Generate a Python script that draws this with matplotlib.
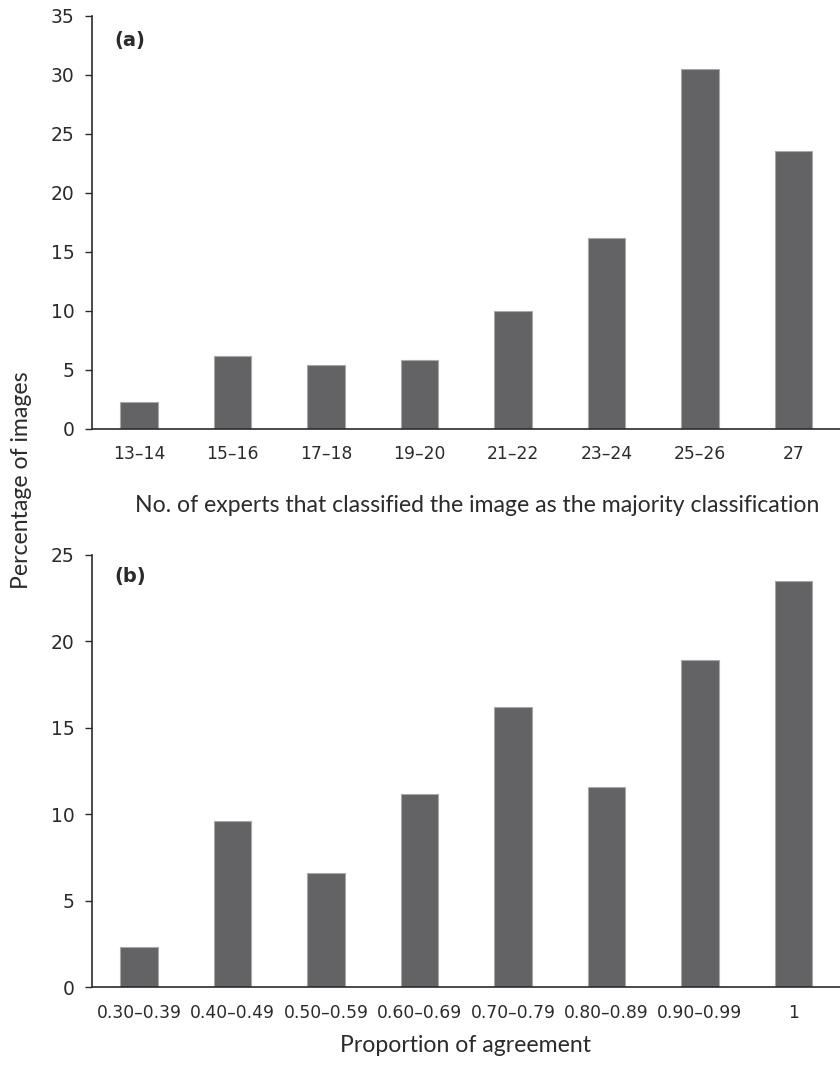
import matplotlib.pyplot as plt

plt.rcParams["font.family"] = ["DejaVu Sans"]

# ---- data ----
experts_labels = ["13–14", "15–16", "17–18", "19–20", "21–22", "23–24", "25–26", "27"]
experts_pct = [2.3, 6.2, 5.4, 5.8, 10.0, 16.2, 30.5, 23.5]

agree_labels = ["0.30–0.39", "0.40–0.49", "0.50–0.59", "0.60–0.69",
                "0.70–0.79", "0.80–0.89", "0.90–0.99", "1"]
agree_pct = [2.3, 9.6, 6.6, 11.2, 16.2, 11.6, 18.9, 23.5]

BAR_COLOR = "#636365"
EDGE_COLOR = "#a8a8a8"
SPINE_COLOR = "#2b2b2b"
TEXT_COLOR = "#2b2b2b"
LABEL_FONT = ["Lato", "DejaVu Sans"]

fig = plt.figure(figsize=(8.4, 10.71), dpi=100)
ax_a = fig.add_axes([0.110, 0.5997, 0.890, 0.3856])
ax_b = fig.add_axes([0.110, 0.0782, 0.890, 0.4036])


def style_axis(ax, labels, values, ymax, panel):
    x = range(len(values))
    ax.bar(x, values, width=0.4, color=BAR_COLOR, edgecolor=EDGE_COLOR, linewidth=0.8)
    ax.set_xlim(-0.5, len(values) - 0.5)
    ax.set_ylim(0, ymax)
    ax.set_yticks(range(0, ymax + 1, 5))
    ax.set_xticks(list(x))
    ax.set_xticklabels(labels)
    for side in ["top", "right"]:
        ax.spines[side].set_visible(False)
    for side in ["left", "bottom"]:
        ax.spines[side].set_color(SPINE_COLOR)
        ax.spines[side].set_linewidth(1.2)
    ax.tick_params(axis="y", length=5, width=1.0, color=SPINE_COLOR,
                   labelsize=13.5, labelcolor=TEXT_COLOR, pad=8)
    ax.tick_params(axis="x", length=0, labelsize=12.3, labelcolor=TEXT_COLOR, pad=12)
    ax.text(0.03, 0.94 if panel == "(a)" else 0.95, panel, transform=ax.transAxes,
            fontsize=14, fontweight="bold", color=TEXT_COLOR, va="center")


style_axis(ax_a, experts_labels, experts_pct, 35, "(a)")
style_axis(ax_b, agree_labels, agree_pct, 25, "(b)")

fig.text(477 / 840, 1 - 505 / 1071, "No. of experts that classified the image as the majority classification",
         ha="center", va="center", fontsize=16.6, color=TEXT_COLOR, family=LABEL_FONT)
fig.text(466 / 840, 1 - 1046 / 1071, "Proportion of agreement",
         ha="center", va="center", fontsize=16.6, color=TEXT_COLOR, family=LABEL_FONT)
fig.text(22 / 840, 1 - 480 / 1071, "Percentage of images", rotation=90,
         ha="center", va="center", fontsize=16.6, color=TEXT_COLOR, family=LABEL_FONT)

plt.savefig("out.png", dpi=100)
plt.close()
